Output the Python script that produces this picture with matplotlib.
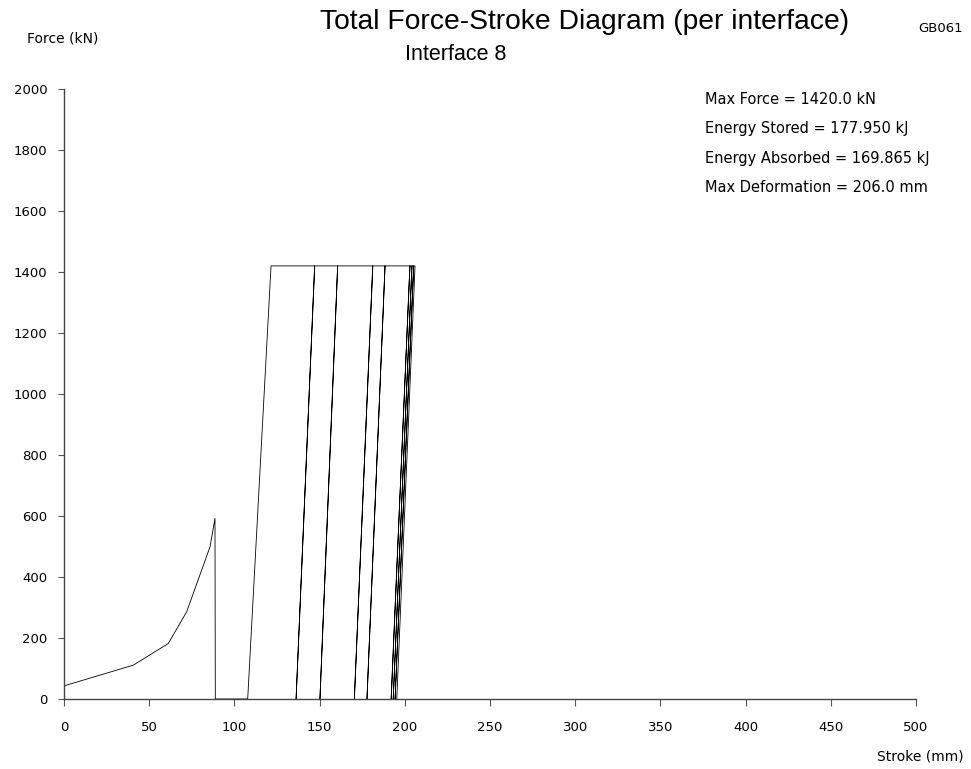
import matplotlib
matplotlib.use('Agg')
import matplotlib.pyplot as plt

plt.rcParams['font.family'] = ['DejaVu Sans']

# stroke (mm) and force (kN), in drawing order
stroke = [0, 0, 40.7, 61.2, 72, 85.7, 88.6, 88.8, 107.8, 121.5,
          147.1, 136.2, 147.1, 160.6, 150.2, 160.6, 181.2, 170.4, 181.2,
          188.4, 177.8, 188.4, 203.0, 192.0, 203.0, 204.2, 193.2, 204.2,
          205.2, 194.3, 205.2, 206.0, 195.3]
force = [0, 43, 111, 182, 286, 499, 592, 0, 0, 1420,
         1420, 0, 1420, 1420, 0, 1420, 1420, 0, 1420,
         1420, 0, 1420, 1420, 0, 1420, 1420, 0, 1420,
         1420, 0, 1420, 1420, 0]

x_ticks = [0, 50, 100, 150, 200, 250, 300, 350, 400, 450, 500]
y_ticks = [0, 200, 400, 600, 800, 1000, 1200, 1400, 1600, 1800, 2000]

info = ['Max Force = 1420.0 kN',
        'Energy Stored = 177.950 kJ',
        'Energy Absorbed = 169.865 kJ',
        'Max Deformation = 206.0 mm']

fig = plt.figure(figsize=(9.71, 7.69), dpi=100)
ax = fig.add_axes([64/971, 1 - 699/769, 852/971, 610/769])

ax.plot(stroke, force, color='black', lw=0.6)

ax.set_xlim(0, 500)
ax.set_ylim(0, 2000)
ax.set_xticks(x_ticks)
ax.set_yticks(y_ticks)
ax.tick_params(axis='x', direction='out', length=5, pad=11, labelsize=9.5, color='#555555')
ax.tick_params(axis='y', direction='out', length=4, pad=8, labelsize=9.5, color='#555555')
for side in ['top', 'right']:
    ax.spines[side].set_visible(False)
for side in ['left', 'bottom']:
    ax.spines[side].set_color('#444444')
    ax.spines[side].set_linewidth(1.0)

fig.text(585/971, 1 - 22/769, 'Total Force-Stroke Diagram (per interface)',
         ha='center', va='center', fontsize=20.3, family='Liberation Sans')
fig.text(456/971, 1 - 55/769, 'Interface 8', ha='center', va='center', fontsize=15.5,
         family='Liberation Sans')
fig.text(941/971, 1 - 29/769, 'GB061', ha='center', va='center', fontsize=9.5)
fig.text(63/971, 1 - 38/769, 'Force (kN)', ha='center', va='center', fontsize=10)
fig.text(920/971, 1 - 757/769, 'Stroke (mm)', ha='center', va='center', fontsize=10)

for i, line in enumerate(info):
    fig.text(705/971, 1 - (99 + i * 29.5)/769, line, ha='left', va='center', fontsize=10.5)

fig.savefig('out.png', dpi=100)
